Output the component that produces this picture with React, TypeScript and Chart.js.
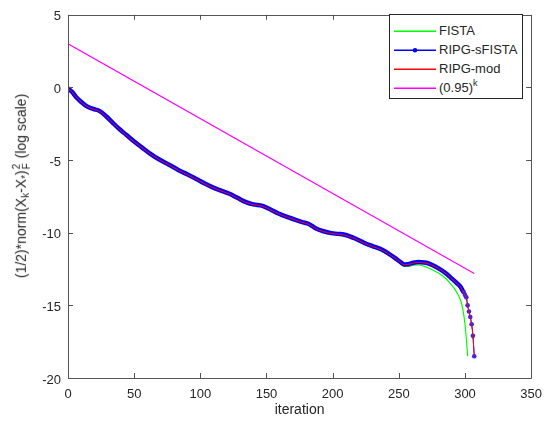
import React, { useEffect, useRef } from "react";
import { Chart, registerables } from "chart.js";

Chart.register(...registerables);

// ---- data ----
const sfistaIter = [0, 3, 7, 10, 14, 19, 24, 29, 34, 39, 44, 50, 56, 62, 69, 76, 84, 90, 97, 103, 109, 115, 122, 128, 134, 140, 147, 153, 159, 166, 172, 177, 182, 187, 193, 199, 204, 209, 217, 224, 230, 237, 242, 247, 251, 254, 257, 261, 265, 269, 272, 276, 280, 285, 289, 293, 297, 298, 299, 300, 301, 302, 303, 304, 305, 306, 307];
const sfistaVal = [-0.05, -0.3, -0.75, -1.0, -1.29, -1.48, -1.63, -2.0, -2.45, -2.88, -3.26, -3.72, -4.14, -4.55, -4.96, -5.3, -5.71, -5.98, -6.3, -6.6, -6.86, -7.08, -7.32, -7.6, -7.88, -8.05, -8.15, -8.4, -8.68, -8.92, -9.12, -9.27, -9.4, -9.69, -9.9, -10.03, -10.08, -10.14, -10.4, -10.71, -10.92, -11.16, -11.42, -11.73, -12.0, -12.18, -12.17, -12.07, -12.02, -12.05, -12.1, -12.25, -12.45, -12.75, -13.07, -13.4, -13.77, -13.95, -14.1, -14.28, -14.45, -15.0, -15.42, -15.8, -16.3, -17.1, -18.5];

const modIter = [0, 3, 7, 10, 14, 19, 24, 29, 34, 39, 44, 50, 56, 62, 69, 76, 84, 90, 97, 103, 109, 115, 122, 128, 134, 140, 147, 153, 159, 166, 172, 177, 182, 187, 193, 199, 204, 209, 217, 224, 230, 237, 242, 247, 251, 254, 257, 261, 265, 269, 272, 276, 280, 285, 289, 293, 297, 298, 299, 300, 301, 302, 303, 304, 305, 306, 307];
const modVal = [-0.05, -0.3, -0.75, -1.0, -1.3, -1.5, -1.65, -2.02, -2.47, -2.9, -3.28, -3.74, -4.16, -4.57, -4.98, -5.32, -5.73, -6.0, -6.32, -6.62, -6.88, -7.1, -7.34, -7.62, -7.9, -8.07, -8.17, -8.42, -8.7, -8.94, -9.14, -9.29, -9.42, -9.71, -9.92, -10.05, -10.1, -10.16, -10.42, -10.73, -10.94, -11.18, -11.44, -11.75, -12.02, -12.2, -12.19, -12.09, -12.04, -12.07, -12.12, -12.27, -12.47, -12.77, -13.09, -13.42, -13.79, -13.97, -14.12, -14.3, -14.47, -15.0, -15.42, -15.8, -16.3, -17.1, -18.5];

const fistaIter = [0, 3, 7, 10, 14, 19, 24, 29, 34, 39, 44, 50, 56, 62, 69, 76, 84, 90, 97, 103, 109, 115, 122, 128, 134, 140, 147, 153, 159, 166, 172, 177, 182, 187, 193, 199, 204, 209, 217, 224, 230, 237, 242, 247, 251, 254, 257, 261, 265, 269, 272, 276, 280, 285, 289, 292, 295, 297, 298, 299, 300, 301, 302];
const fistaVal = [-0.05, -0.3, -0.75, -1.0, -1.3, -1.5, -1.65, -2.02, -2.47, -2.9, -3.28, -3.74, -4.16, -4.57, -4.98, -5.32, -5.73, -6.0, -6.32, -6.62, -6.88, -7.1, -7.35, -7.63, -7.92, -8.1, -8.2, -8.45, -8.73, -8.98, -9.18, -9.33, -9.46, -9.75, -9.97, -10.1, -10.15, -10.22, -10.48, -10.8, -11.02, -11.27, -11.54, -11.85, -12.14, -12.32, -12.32, -12.24, -12.22, -12.3, -12.41, -12.58, -12.78, -13.12, -13.5, -13.85, -14.3, -14.75, -15.1, -15.6, -16.3, -17.3, -18.5];

const rateIter = [0, 307];
const rateVal = [3, -12.8];

const xTicks = [0, 50, 100, 150, 200, 250, 300, 350];
const yTicks = [-20, -15, -10, -5, 0, 5];

const FONT = "'Liberation Sans', Arial, Helvetica, sans-serif";
const TEXT = "#262626";
const GREEN = "#00ff00";
const BLUE = "#0000ff";
const RED = "#ff0000";
const MAGENTA = "#ff00ff";

const toXY = (xs: number[], ys: number[]) => xs.map((x, i) => ({ x, y: ys[i] }));

const boxPlugin = {
  id: "matlabBox",
  afterDraw(chart: any) {
    const { ctx, chartArea } = chart;
    const { left, right, top, bottom } = chartArea;
    const xs = chart.scales.x;
    const ys = chart.scales.y;
    ctx.save();
    ctx.strokeStyle = "#555555";
    ctx.lineWidth = 1;
    ctx.beginPath();
    ctx.rect(Math.round(left) + 0.5, Math.round(top) + 0.5, Math.round(right - left), Math.round(bottom - top));
    ctx.stroke();
    const len = 5;
    ctx.beginPath();
    xTicks.forEach((v) => {
      const px = Math.round(xs.getPixelForValue(v)) + 0.5;
      ctx.moveTo(px, bottom);
      ctx.lineTo(px, bottom - len);
      ctx.moveTo(px, top);
      ctx.lineTo(px, top + len);
    });
    yTicks.forEach((v) => {
      const py = Math.round(ys.getPixelForValue(v)) + 0.5;
      ctx.moveTo(left, py);
      ctx.lineTo(left + len, py);
      ctx.moveTo(right, py);
      ctx.lineTo(right - len, py);
    });
    ctx.stroke();
    ctx.restore();
  },
};

export default function App() {
  const canvasRef = useRef<HTMLCanvasElement | null>(null);

  useEffect(() => {
    if (!canvasRef.current) return;
    const chart = new Chart(canvasRef.current, {
      type: "line",
      data: {
        datasets: [
          {
            label: "FISTA",
            data: toXY(fistaIter, fistaVal),
            borderColor: GREEN,
            borderWidth: 1.2,
            pointRadius: 0,
            cubicInterpolationMode: "monotone",
            order: 4,
          },
          {
            label: "RIPG-sFISTA",
            data: toXY(sfistaIter, sfistaVal),
            borderColor: BLUE,
            backgroundColor: BLUE,
            borderWidth: 1,
            segment: {
              borderWidth: (c: any) => (c.p1.parsed.x <= 299 ? 4.5 : 1),
            },
            pointRadius: (c: any) => (c.raw && c.raw.x >= 299 ? 2.3 : 0),
            pointBorderWidth: 0,
            pointBackgroundColor: "rgb(40,40,255)",
            cubicInterpolationMode: "monotone",
            order: 3,
          },
          {
            label: "RIPG-mod",
            data: toXY(modIter, modVal),
            borderColor: RED,
            borderWidth: 1,
            pointRadius: 0,
            cubicInterpolationMode: "monotone",
            order: 2,
          },
          {
            label: "(0.95)^k",
            data: toXY(rateIter, rateVal),
            borderColor: MAGENTA,
            borderWidth: 1.2,
            pointRadius: 0,
            order: 1,
          },
        ],
      },
      options: {
        animation: false,
        responsive: true,
        maintainAspectRatio: false,
        layout: { padding: { top: 10, right: 17, left: 0, bottom: 0 } },
        plugins: { legend: { display: false }, tooltip: { enabled: false } },
        scales: {
          x: {
            type: "linear",
            min: 0,
            max: 350,
            afterBuildTicks: (s: any) => {
              s.ticks = xTicks.map((v) => ({ value: v }));
            },
            afterFit: (s: any) => {
              s.height = 46;
            },
            grid: { display: false, drawTicks: false },
            border: { display: false },
            ticks: { padding: 9, color: TEXT, font: { family: FONT, size: 13 }, maxRotation: 0 },
            title: {
              display: true,
              text: "iteration",
              color: TEXT,
              font: { family: FONT, size: 14 },
              padding: { top: 0, bottom: 5 },
            },
          },
          y: {
            type: "linear",
            min: -20,
            max: 5,
            afterBuildTicks: (s: any) => {
              s.ticks = yTicks.map((v) => ({ value: v }));
            },
            afterFit: (s: any) => {
              s.width = 68;
            },
            grid: { display: false, drawTicks: false },
            border: { display: false },
            ticks: { padding: 7, labelOffset: 2, color: TEXT, font: { family: FONT, size: 13 } },
          },
        },
      },
      plugins: [boxPlugin],
    } as any);
    return () => chart.destroy();
  }, []);

  const row = (top: number, color: string, label: React.ReactNode, dot = false) => (
    <div style={{ position: "absolute", left: 0, top, width: "100%", height: 1 }}>
      <svg
        width={44}
        height={8}
        style={{ position: "absolute", left: 3, top: -4, overflow: "visible" }}
      >
        <line x1={1} y1={4.3} x2={43} y2={4.3} stroke={color} strokeWidth={1.4} />
        {dot && <circle cx={22} cy={4.3} r={2.3} fill={color} />}
      </svg>
      <div
        style={{
          position: "absolute",
          left: 49,
          top: -8,
          lineHeight: "16px",
          fontSize: 13,
          whiteSpace: "nowrap",
          color: TEXT,
        }}
      >
        {label}
      </div>
    </div>
  );

  return (
    <div style={{ position: "absolute", left: 0, top: 0, width: 551, height: 424, fontFamily: FONT, background: "#fff" }}>
      <canvas ref={canvasRef} />
      <div
        style={{
          position: "absolute",
          left: 22,
          top: 186,
          transform: "translate(-50%, -50%) rotate(-90deg)",
          whiteSpace: "nowrap",
          fontSize: 14,
          color: TEXT,
          lineHeight: "18px",
        }}
      >
        (1/2)*norm(X<sub style={{ fontSize: 10, verticalAlign: "-3px", lineHeight: 0 }}>k</sub>-X
        <sub style={{ fontSize: 10, verticalAlign: "-3px", lineHeight: 0 }}>*</sub>)
        <span
          style={{
            display: "inline-flex",
            flexDirection: "column",
            fontSize: 10,
            lineHeight: "10px",
            verticalAlign: "middle",
            margin: "0 1px",
          }}
        >
          <span>2</span>
          <span>F</span>
        </span>{" "}
        (log scale)
      </div>
      <div
        style={{
          position: "absolute",
          left: 389,
          top: 14,
          width: 134,
          height: 85,
          boxSizing: "border-box",
          border: "1px solid #262626",
          background: "#fff",
        }}
      >
        {row(16, GREEN, "FISTA")}
        {row(35, BLUE, "RIPG-sFISTA", true)}
        {row(54, RED, "RIPG-mod")}
        {row(
          73,
          MAGENTA,
          <span>
            (0.95)<sup style={{ fontSize: 9, verticalAlign: "6px", lineHeight: 0 }}>k</sup>
          </span>
        )}
      </div>
    </div>
  );
}
